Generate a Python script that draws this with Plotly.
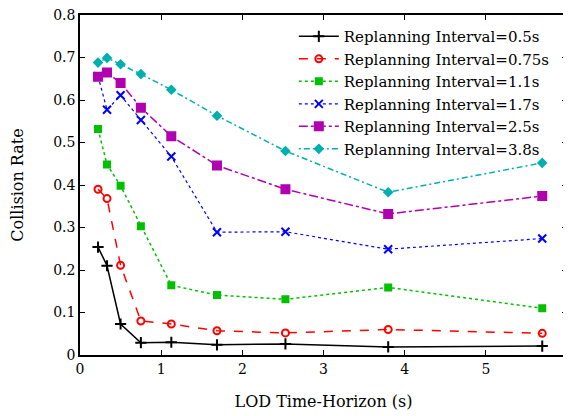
import plotly.graph_objects as go

horizon = [0.222, 0.333, 0.5, 0.75, 1.125, 1.6875, 2.531, 3.797, 5.695]

names = [
    "Replanning Interval=0.5s",
    "Replanning Interval=0.75s",
    "Replanning Interval=1.1s",
    "Replanning Interval=1.7s",
    "Replanning Interval=2.5s",
    "Replanning Interval=3.8s",
]

rate_05 = [0.254, 0.210, 0.073, 0.029, 0.030, 0.024, 0.026, 0.019, 0.021]
rate_075 = [0.390, 0.368, 0.211, 0.080, 0.073, 0.057, 0.052, 0.060, 0.051]
rate_11 = [0.532, 0.448, 0.398, 0.303, 0.164, 0.141, 0.131, 0.159, 0.110]
rate_17 = [0.656, 0.577, 0.611, 0.553, 0.467, 0.289, 0.290, 0.249, 0.274]
rate_25 = [0.655, 0.665, 0.640, 0.582, 0.515, 0.446, 0.390, 0.332, 0.374]
rate_38 = [0.688, 0.699, 0.684, 0.661, 0.624, 0.563, 0.480, 0.383, 0.452]

x_ticks = [0, 1, 2, 3, 4, 5, 6]
y_ticks = [0, 0.1, 0.2, 0.3, 0.4, 0.5, 0.6, 0.7, 0.8]
y_tick_text = ["0", "0.1", "0.2", "0.3", "0.4", "0.5", "0.6", "0.7", "0.8"]

series = [rate_05, rate_075, rate_11, rate_17, rate_25, rate_38]
colors = ["#000000", "#ff0000", "#00c000", "#0000ff", "#b000b0", "#00b0b0"]
dashes = ["solid", "dash", "dot", "dot", "dashdot", "2px,3px,6px,3px"]
symbols = ["cross-thin-open", "circle-open", "square", "x-thin-open", "square", "diamond"]
sizes = [8, 7, 6, 8, 8, 6]
widths = [1.5, 1.5, 1.5, 1.2, 1.5, 1.5]

font = "DejaVu Serif"

fig = go.Figure()
for name, ys, c, d, s, sz, w in zip(names, series, colors, dashes, symbols, sizes, widths):
    fig.add_trace(go.Scatter(
        x=horizon, y=ys, name=name, mode="lines+markers",
        line=dict(color=c, dash=d, width=w),
        marker=dict(symbol=s, size=sz, color=c, line=dict(color=c, width=2)),
    ))

axis_common = dict(
    showline=True, linecolor="black", linewidth=1.5, mirror="ticks",
    ticks="inside", ticklen=5, tickcolor="black", tickwidth=1,
    showgrid=False, zeroline=False, automargin=False,
    ticklabeloverflow="allow",
    tickfont=dict(family=font, size=14, color="black"),
)

fig.update_xaxes(range=[0, 6], tickmode="array", tickvals=x_ticks,
                 title=dict(text="LOD Time-Horizon (s)", font=dict(family=font, size=16, color="black"), standoff=20),
                 **axis_common)
fig.update_yaxes(range=[0, 0.8], tickmode="array", tickvals=y_ticks, ticktext=y_tick_text,
                 title=dict(text="Collision Rate", font=dict(family=font, size=16, color="black"), standoff=26),
                 **axis_common)

# the page body offsets the figure by 8px; margins compensate so the plot lands where the reference has it
fig.update_layout(
    width=571, height=416,
    margin=dict(l=72, r=12, t=7, b=69),
    paper_bgcolor="white", plot_bgcolor="white",
    font=dict(family=font, size=14, color="black"),
    legend=dict(x=0.975, xanchor="right", y=0.985, yanchor="top",
                bgcolor="rgba(0,0,0,0)", tracegroupgap=0,
                font=dict(family=font, size=15), itemwidth=40),
)

fig.write_html("out.html")
